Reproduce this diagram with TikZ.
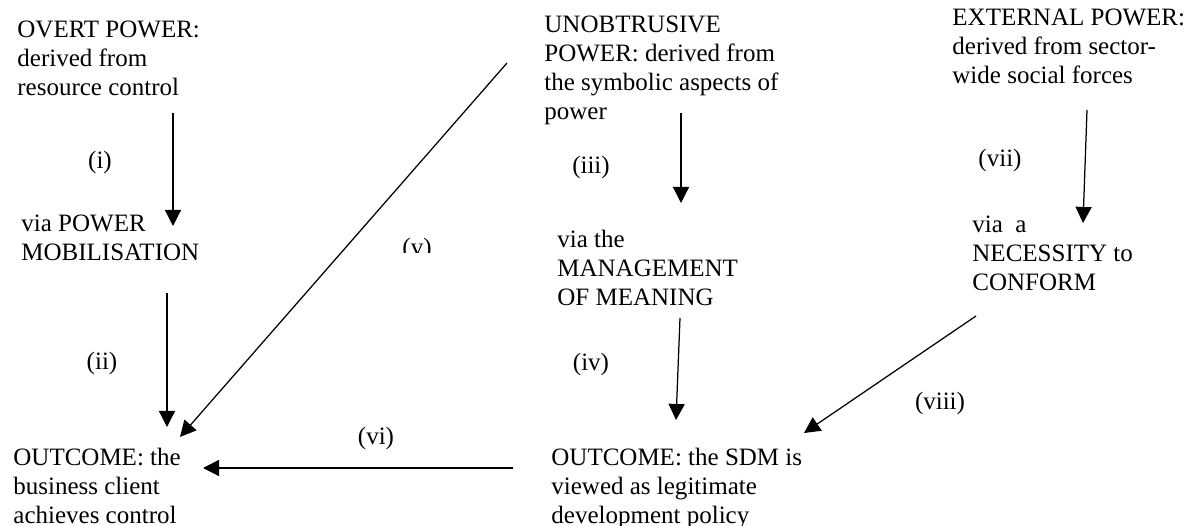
\documentclass[tikz,border=0pt]{standalone}
\usepackage{fontspec}
\setmainfont{Liberation Serif}
\usetikzlibrary{arrows.meta}
\tikzset{
	txt/.style={anchor=base west, align=left, inner sep=0pt, font=\fontsize{12}{13.92}\selectfont},
	lbl/.style={inner sep=0pt, font=\fontsize{12}{13.92}\selectfont},
	link/.style={line width=0.6pt, -{Triangle[length=7.7pt,width=7.7pt]}}
}

\begin{document}
\begin{tikzpicture}[x=0.48pt, y=-0.48pt]
			%%%%% START %%%%%
			\useasboundingbox (0, 0) rectangle (1196, 526);
			
			% power sources (placed at baseline of last line)
			\node[txt] (overt) at (17, 96) {OVERT POWER:\\derived from\\resource control};
			\node[txt] (unob) at (544, 120) {UNOBTRUSIVE\\POWER: derived from\\the symbolic aspects of\\power};
			\node[txt] (ext) at (952, 84) {EXTERNAL POWER:\\derived from sector-\\wide social forces};
			
			% mechanisms
			\node[txt] (overtvia) at (21, 261) {via POWER\\MOBILISATION};
			\node[txt] (unobvia) at (557, 306) {via the\\MANAGEMENT\\OF MEANING};
			\node[txt] (extvia) at (972, 291) {via\ \ a\\NECESSITY to\\CONFORM};
			
			% outcomes
			\node[txt] (outleft) at (13, 524) {OUTCOME: the\\business client\\achieves control};
			\node[txt] (outright) at (551, 524) {OUTCOME: the SDM is\\viewed as legitimate\\development policy};
			
			% arrow ends
			\coordinate (i-a) at (173, 113);
			\coordinate (i-b) at (173, 226);
			\coordinate (ii-a) at (167, 293);
			\coordinate (ii-b) at (167, 427);
			\coordinate (iii-a) at (681, 113);
			\coordinate (iii-b) at (681, 203);
			\coordinate (iv-a) at (680, 318);
			\coordinate (iv-b) at (676, 420);
			\coordinate (v-a) at (507, 63);
			\coordinate (v-b) at (180, 437);
			\coordinate (vi-a) at (513, 468);
			\coordinate (vi-b) at (203, 468);
			\coordinate (vii-a) at (1087, 110);
			\coordinate (vii-b) at (1083, 223);
			\coordinate (viii-a) at (976, 316);
			\coordinate (viii-b) at (804, 433);
			
			\draw[link] (i-a) -- (i-b);
			\draw[link] (ii-a) -- (ii-b);
			\draw[link] (iii-a) -- (iii-b);
			\draw[link] (iv-a) -- (iv-b);
			\draw[link] (v-a) -- (v-b);
			\draw[link] (vi-a) -- (vi-b);
			\draw[link] (vii-a) -- (vii-b);
			\draw[link] (viii-a) -- (viii-b);
			
			% labels
			\node[lbl] (li) at (100, 162) {(i)};
			\node[lbl] (lii) at (102, 363) {(ii)};
			\node[lbl] (liii) at (591, 167) {(iii)};
			\node[lbl] (liv) at (591, 364) {(iv)};
			\begin{scope}
				\clip (380, 220) rectangle (460, 253);
				\node[lbl] (lv) at (417, 249) {(v)};
			\end{scope}
			\node[lbl] (lvi) at (376, 438) {(vi)};
			\node[lbl] (lvii) at (1000, 160) {(vii)};
			\node[lbl] (lviii) at (940, 403) {(viii)};
			
			%%%%% END %%%%%
\end{tikzpicture}
\end{document}
